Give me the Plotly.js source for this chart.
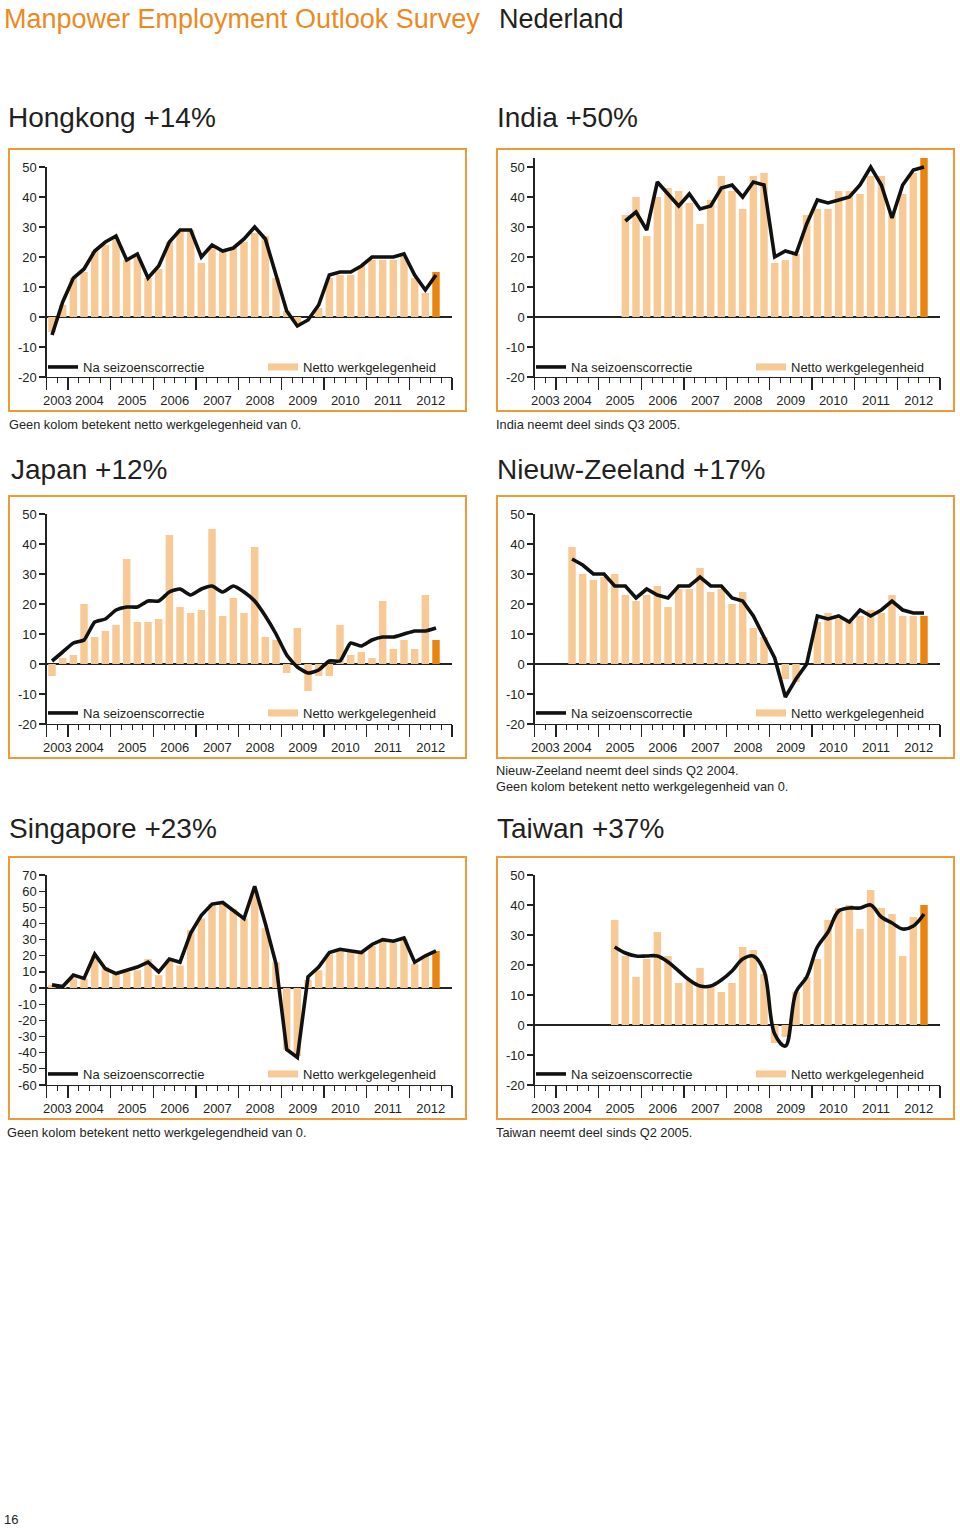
<!DOCTYPE html>
<html><head><meta charset="utf-8">
<script src="https://cdn.plot.ly/plotly-3.0.1.min.js"></script>
<style>html,body{margin:0;padding:0;background:#fff}#chart{width:960px;height:1528px}</style>
</head><body><div id="chart"></div>
<script>
// ---------- DATA ----------
const years = ['2003','2004','2005','2006','2007','2008','2009','2010','2011','2012'];
const firstQuarterOf2003 = 3;          // survey axis starts in Q3 2003
const legendLineName = 'Na seizoenscorrectie';
const legendBarName = 'Netto werkgelegenheid';

const hkTitle = 'Hongkong +14%';
const hkStart = '2003-Q3';
const hkBars = [-5,4,13,15,22,24,26,19,20,13,16,25,29,29,18,23,22,23,25,28,27,13,2,-2,0,3,13,14,14,17,19,19,19,20,13,8,15];
const hkLine = [-6,5,13,16,22,25,27,19,21,13,17,25,29,29,20,24,22,23,26,30,26,14,2,-3,-1,4,14,15,15,17,20,20,20,21,14,9,14];

const indiaTitle = 'India +50%';
const indiaStart = '2005-Q3';
const indiaBars = [34,40,27,40,43,42,38,31,39,47,42,36,47,48,18,19,21,34,36,36,42,42,41,47,47,35,41,48,53];
const indiaLine = [32,35,29,45,41,37,41,36,37,43,44,40,45,44,20,22,21,31,39,38,39,40,44,50,44,33,44,49,50];

const japanTitle = 'Japan +12%';
const japanStart = '2003-Q3';
const japanBars = [-4,2,3,20,9,11,13,35,14,14,15,43,19,17,18,45,16,22,17,39,9,8,-3,12,-9,-4,-4,13,3,4,2,21,5,8,5,23,8];
const japanLine = [1,4,7,8,14,15,18,19,19,21,21,24,25,23,25,26,24,26,24,21,16,10,3,-1,-3,-2,1,1,7,6,8,9,9,10,11,11,12];

const nzTitle = 'Nieuw-Zeeland +17%';
const nzStart = '2004-Q2';
const nzBars = [39,30,28,29,30,23,21,23,26,19,25,25,32,24,25,20,24,12,9,0,-5,-6,0,14,17,15,14,16,18,17,23,16,16,16];
const nzLine = [35,33,30,30,26,26,22,25,23,22,26,26,29,26,26,22,21,16,9,2,-11,-5,0,16,15,16,14,18,16,18,21,18,17,17];

const sgTitle = 'Singapore +23%';
const sgStart = '2003-Q3';
const sgBars = [2,1,6,6,20,13,9,10,11,18,8,18,14,36,43,52,53,49,43,60,37,16,-38,-42,5,11,21,23,23,22,26,29,28,30,15,20,23];
const sgLine = [2,1,8,6,21,12,9,11,13,16,10,18,16,34,45,52,53,48,43,63,40,15,-38,-43,7,13,22,24,23,22,27,30,29,31,16,20,23];

const twTitle = 'Taiwan +37%';
const twStart = '2005-Q2';
const twBars = [35,23,16,22,31,23,14,15,19,13,11,14,26,25,17,-6,-4,11,16,22,35,39,40,32,45,39,37,23,36,40];
const twLine = [26,24,23,23,23,21,18,15,13,13,15,18,22,23,18,-3,-7,11,16,26,31,38,39,39,40,36,34,32,33,37];

const noteZero = 'Geen kolom betekent netto werkgelegenheid van 0.';
const noteZeroSg = 'Geen kolom betekent netto werkgelegendheid van 0.';
const noteIndia = 'India neemt deel sinds Q3 2005.';
const noteNz = 'Nieuw-Zeeland neemt deel sinds Q2 2004.';
const noteTw = 'Taiwan neemt deel sinds Q2 2005.';
const mainTitle = 'Manpower Employment Outlook Survey';
const countryTitle = 'Nederland';
const pageNumber = '16';

// ---------- STYLE ----------
const W = 960, H = 1528;
const px = x => x / W;
const py = y => 1 - y / H;
const FONT = 'Liberation Sans, Arial, Helvetica, sans-serif';
const TXT = '#231f20';
const BAR_LIGHT = '#f7c994';
const BAR_DARK = '#e9850f';
const ORANGE = '#ef9a35';
const LINE = '#111111';

// quarter axis
const quarterKeys = [];
years.forEach((y, yi) => {
  for (let q = (yi === 0 ? firstQuarterOf2003 : 1); q <= 4; q++) quarterKeys.push(y + '-Q' + q);
});
const yearBounds = [-0.5];
const yearCenters = [];
years.forEach(y => {
  const n = quarterKeys.filter(k => k.startsWith(y)).length;
  const s = yearBounds[yearBounds.length - 1];
  yearCenters.push(s + n / 2);
  yearBounds.push(s + n);
});
const quarterBounds = quarterKeys.map((_, i) => i - 0.5).concat([quarterKeys.length - 0.5]);
const xRange = [-0.5, quarterKeys.length - 0.5];

// tick ranges (t) and drawn axis range (yr); India's axis runs a little above 50
const panels = [
  {title: hkTitle, start: hkStart, bars: hkBars, line: hkLine, t: [-20, 50], top: 50, col: 0, row: 0, shape: 'linear'},
  {title: indiaTitle, start: indiaStart, bars: indiaBars, line: indiaLine, t: [-20, 50], top: 53, col: 1, row: 0, shape: 'linear'},
  {title: japanTitle, start: japanStart, bars: japanBars, line: japanLine, t: [-20, 50], top: 50, col: 0, row: 1, shape: 'spline', sm: 0.5},
  {title: nzTitle, start: nzStart, bars: nzBars, line: nzLine, t: [-20, 50], top: 50, col: 1, row: 1, shape: 'linear'},
  {title: sgTitle, start: sgStart, bars: sgBars, line: sgLine, t: [-60, 70], top: 70, col: 0, row: 2, shape: 'linear'},
  {title: twTitle, start: twStart, bars: twBars, line: twLine, t: [-20, 50], top: 50, col: 1, row: 2, shape: 'spline', sm: 1}
];
const rowOffset = [0, 347, 708];
const colOffset = [0, 488];
const titleX = [[6, 495], [9, 495], [7, 495]];

const traces = [];
const layout = {
  width: W, height: H,
  margin: {l: 0, r: 0, t: 0, b: 0},
  paper_bgcolor: '#fff', plot_bgcolor: 'rgba(0,0,0,0)',
  bargap: 0.3,
  font: {family: FONT, color: TXT, size: 13},
  hovermode: false,
  shapes: [], annotations: []
};

function ann(text, x, y, size, color) {
  layout.annotations.push({text: text, x: px(x), y: py(y), xref: 'paper', yref: 'paper',
    xanchor: 'left', yanchor: 'middle', showarrow: false,
    font: {family: FONT, size: size, color: color || TXT}});
}

panels.forEach((p, k) => {
  const n = k + 1;
  const sx = n === 1 ? '' : String(n);
  const xa = 'x' + sx, ya = 'y' + sx, xl = 'x' + (n + 6);
  const dx = colOffset[p.col], dy = rowOffset[p.row];
  const s0 = quarterKeys.indexOf(p.start);
  const xs = p.bars.map((_, i) => s0 + i);
  const lg1 = 'legend' + (2 * n - 1 === 1 ? '' : String(2 * n - 1));
  const lg2 = 'legend' + String(2 * n);

  traces.push({type: 'bar', x: xs, y: p.bars, xaxis: xa, yaxis: ya, showlegend: false,
    marker: {color: p.bars.map((_, i) => i === p.bars.length - 1 ? BAR_DARK : BAR_LIGHT), line: {width: 0}}});
  traces.push({type: 'scatter', mode: 'lines', x: p.line.map((_, i) => s0 + i), y: p.line,
    xaxis: xa, yaxis: ya, name: legendLineName, legend: lg1,
    line: {color: LINE, width: 3.6, shape: p.shape, smoothing: p.sm || 1}});
  // legend entry for the bars (wide flat swatch), lives on the year-label axis
  traces.push({type: 'scatter', mode: 'lines', x: [null], y: [null], xaxis: xl, yaxis: ya,
    name: legendBarName, legend: lg2, line: {color: BAR_LIGHT, width: 7}});

  const unit = 210 / (p.t[1] - p.t[0]);
  const x0 = 46.7 + dx, x1 = 452 + dx, yBot = 377 + dy;
  const yTop = 167 + dy - (p.top - p.t[1]) * unit;
  const yt = [];
  for (let v = p.t[0]; v <= p.t[1]; v += 10) yt.push(v);

  layout['xaxis' + sx] = {
    domain: [px(x0), px(x1)], range: xRange, anchor: ya, fixedrange: true,
    showline: true, linecolor: '#222', linewidth: 1.3, showgrid: false, zeroline: false,
    tickmode: 'array', tickvals: yearBounds, ticks: 'outside', ticklen: 12, tickwidth: 1.3, tickcolor: '#222',
    showticklabels: false,
    minor: {tickmode: 'array', tickvals: quarterBounds, ticks: 'outside', ticklen: 5, tickwidth: 1, tickcolor: '#222', showgrid: false}
  };
  layout['xaxis' + (n + 6)] = {
    overlaying: xa, anchor: ya, range: xRange, fixedrange: true,
    showline: false, showgrid: false, zeroline: false,
    tickmode: 'array', tickvals: yearCenters, ticktext: years,
    ticks: 'outside', ticklen: 11, tickcolor: 'rgba(0,0,0,0)',
    tickfont: {family: FONT, size: 13, color: TXT}
  };
  layout['yaxis' + sx] = {
    domain: [py(yBot), py(yTop)], range: [p.t[0], p.top], anchor: xa, fixedrange: true,
    showline: true, linecolor: '#222', linewidth: 1.3, showgrid: false,
    zeroline: true, zerolinecolor: '#222', zerolinewidth: 1.3,
    tickmode: 'array', tickvals: yt, ticktext: yt.map(v => String(v)),
    ticks: 'outside', ticklen: 6, tickwidth: 1.2, tickcolor: '#222',
    tickfont: {family: FONT, size: 13, color: TXT}
  };
  const legY = [367, 713, 1074][p.row];
  layout[lg1] = {x: px(43 + dx), y: py(legY), xanchor: 'left', yanchor: 'middle', orientation: 'h',
    bgcolor: 'rgba(0,0,0,0)', borderwidth: 0, font: {family: FONT, size: 13, color: TXT}};
  layout[lg2] = {x: px(263 + dx), y: py(legY), xanchor: 'left', yanchor: 'middle', orientation: 'h',
    bgcolor: 'rgba(0,0,0,0)', borderwidth: 0, font: {family: FONT, size: 13, color: TXT}};

  layout.shapes.push({type: 'rect', xref: 'paper', yref: 'paper',
    x0: px(9 + dx), x1: px(466 + dx), y0: py(149 + dy), y1: py(411 + dy),
    line: {color: ORANGE, width: 2}, fillcolor: 'rgba(0,0,0,0)'});

  ann(p.title, titleX[p.row][p.col], [118, 469, 829][p.row], 28);
});

ann(mainTitle, 2, 19, 27, '#ec8a1f');
ann(countryTitle, 497, 19, 27, TXT);
ann(noteZero, 7, 424, 12.8);
ann(noteIndia, 494, 424, 12.8);
ann(noteNz, 494, 770, 12.8);
ann(noteZero, 494, 786, 12.8);
ann(noteZeroSg, 5, 1132, 12.8);
ann(noteTw, 494, 1132, 12.8);
ann(pageNumber, 2, 1519, 13);

Plotly.newPlot('chart', traces, layout, {staticPlot: true, displayModeBar: false});
</script>
</body></html>
